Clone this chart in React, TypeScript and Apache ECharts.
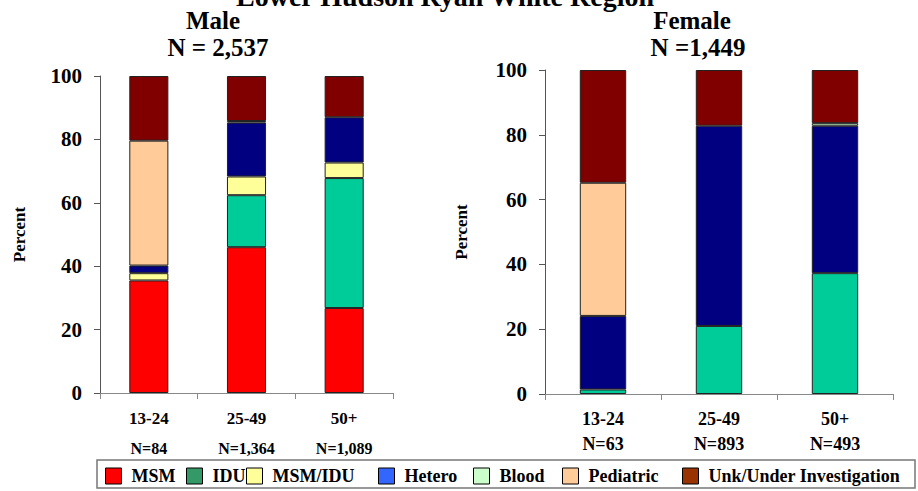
import React, { useEffect, useRef } from "react";
import * as echarts from "echarts";

const titleText = "Lower Hudson Ryan White Region";
const maleTitle = "Male";
const maleTotal = "N = 2,537";
const femaleTitle = "Female";
const femaleTotal = "N =1,449";

const categories = ["13-24", "25-49", "50+"];
const maleN = ["N=84", "N=1,364", "N=1,089"];
const femaleN = ["N=63", "N=893", "N=493"];
const yTicks = [0, 20, 40, 60, 80, 100];

const seriesNames = ["MSM", "IDU", "MSM/IDU", "Hetero", "Blood", "Pediatric", "Unk/Under Investigation"];
const barColors = ["#FF0000", "#00CC99", "#FFFF99", "#000080", "#CCFFCC", "#FFCC99", "#800000"];
const legendColors = ["#FF0000", "#339966", "#FFFF99", "#3366FF", "#CCFFCC", "#FFCC99", "#993300"];

// Male percentages per category
const maleMSM = [35.5, 46.0, 26.8];
const maleIDU = [0, 16.4, 41.0];
const maleMSMIDU = [2.3, 5.9, 4.9];
const maleHetero = [2.4, 17.0, 14.3];
const maleBlood = [0, 0.5, 0];
const malePediatric = [39.4, 0, 0];
const maleUnk = [20.4, 14.2, 13.0];

// Female percentages per category
const femaleMSM = [0, 0, 0];
const femaleIDU = [1.4, 21.0, 37.3];
const femaleMSMIDU = [0, 0, 0];
const femaleHetero = [22.7, 61.8, 45.5];
const femaleBlood = [0, 0, 0.8];
const femalePediatric = [41.1, 0, 0];
const femaleUnk = [34.8, 17.2, 16.4];

const maleValues = [maleMSM, maleIDU, maleMSMIDU, maleHetero, maleBlood, malePediatric, maleUnk];
const femaleValues = [femaleMSM, femaleIDU, femaleMSMIDU, femaleHetero, femaleBlood, femalePediatric, femaleUnk];

// layout (not data)
const legendLefts = [105, 186, 246, 378, 473, 562, 682];
const FONT = "Liberation Serif, Times New Roman, serif";

export default function App() {
  const ref = useRef<HTMLDivElement>(null);

  useEffect(() => {
    if (!ref.current) return;
    const chart = echarts.init(ref.current, undefined, { renderer: "svg" });

    const mkSeries = (vals: number[][], idx: number) =>
      vals.map((arr, i) => ({
        name: seriesNames[i],
        type: "bar",
        stack: idx === 0 ? "male" : "female",
        xAxisIndex: idx,
        yAxisIndex: idx,
        barWidth: "40%",
        data: arr.map((v) => (v === 0 ? null : v)),
        itemStyle: { color: barColors[i], borderColor: "#222", borderWidth: 1 },
      }));

    const yAxisBase = (nameGap: number) => ({
      type: "value",
      min: 0,
      max: 100,
      interval: 20,
      name: "Percent",
      nameLocation: "middle",
      nameGap,
      nameRotate: 90,
      nameTextStyle: { fontFamily: FONT, fontWeight: "bold", fontSize: 17, color: "#000" },
      axisLine: { show: true, lineStyle: { color: "#555", width: 1 } },
      axisTick: { show: true, length: 6, lineStyle: { color: "#555" } },
      splitLine: { show: false },
      axisLabel: {
        fontFamily: FONT,
        fontWeight: "bold",
        fontSize: 21,
        color: "#000",
        margin: 18,
        formatter: (v: number) => (yTicks.includes(v) ? String(v) : ""),
      },
    });

    const xAxisBase = (nArr: string[], catSize: number, nSize: number, lh: number, margin: number) => ({
      type: "category",
      data: categories,
      axisLine: { lineStyle: { color: "#888", width: 1 } },
      axisTick: { show: true, length: 6, lineStyle: { color: "#888" } },
      axisLabel: {
        margin,
        interval: 0,
        formatter: (v: string, i: number) => `{c|${v}}\n{n|${nArr[i]}}`,
        rich: {
          c: { fontFamily: FONT, fontWeight: "bold", fontSize: catSize, color: "#000", lineHeight: lh },
          n: { fontFamily: FONT, fontWeight: "bold", fontSize: nSize, color: "#000", lineHeight: lh },
        },
      },
    });

    const option: any = {
      animation: false,
      backgroundColor: "#fff",
      grid: [
        { left: 100, top: 76, width: 293, height: 317 },
        { left: 545, top: 70, width: 348, height: 324 },
      ],
      xAxis: [
        { ...xAxisBase(maleN, 17, 16, 30, 10), gridIndex: 0 },
        { ...xAxisBase(femaleN, 18, 18, 25, 12), gridIndex: 1 },
      ],
      yAxis: [
        { ...yAxisBase(72), gridIndex: 0 },
        { ...yAxisBase(75), gridIndex: 1 },
      ],
      legend: seriesNames.map((n, i) => ({
        data: [
          {
            name: n,
            itemStyle: { color: legendColors[i], borderColor: "#000", borderWidth: 1 },
          },
        ],
        left: legendLefts[i],
        top: 467,
        padding: 0,
        icon: "rect",
        itemWidth: 16,
        itemHeight: 16,
        textStyle: {
          fontFamily: FONT,
          fontWeight: "bold",
          fontSize: 18,
          color: "#000",
          padding: [0, 0, 0, 5],
        },
      })),
      graphic: [
        {
          type: "rect",
          shape: { x: 97, y: 460, width: 818, height: 28 },
          style: { fill: "none", stroke: "#777", lineWidth: 1.5 },
          silent: true,
        },
        {
          type: "text",
          x: 445,
          y: -4,
          style: { text: titleText, font: `bold 28px ${FONT}`, fill: "#000", align: "center", verticalAlign: "middle" },
        },
        {
          type: "text",
          x: 213,
          y: 20,
          style: { text: maleTitle, font: `bold 25px ${FONT}`, fill: "#000", align: "center", verticalAlign: "middle" },
        },
        {
          type: "text",
          x: 218,
          y: 47,
          style: { text: maleTotal, font: `bold 25px ${FONT}`, fill: "#000", align: "center", verticalAlign: "middle" },
        },
        {
          type: "text",
          x: 692,
          y: 20,
          style: { text: femaleTitle, font: `bold 25px ${FONT}`, fill: "#000", align: "center", verticalAlign: "middle" },
        },
        {
          type: "text",
          x: 698,
          y: 47,
          style: { text: femaleTotal, font: `bold 25px ${FONT}`, fill: "#000", align: "center", verticalAlign: "middle" },
        },
      ],
      series: [...mkSeries(maleValues, 0), ...mkSeries(femaleValues, 1)],
    };

    chart.setOption(option);
    return () => chart.dispose();
  }, []);

  return (
    <div
      ref={ref}
      style={{ position: "fixed", left: 0, top: 0, width: 918, height: 491, background: "#fff" }}
    />
  );
}
